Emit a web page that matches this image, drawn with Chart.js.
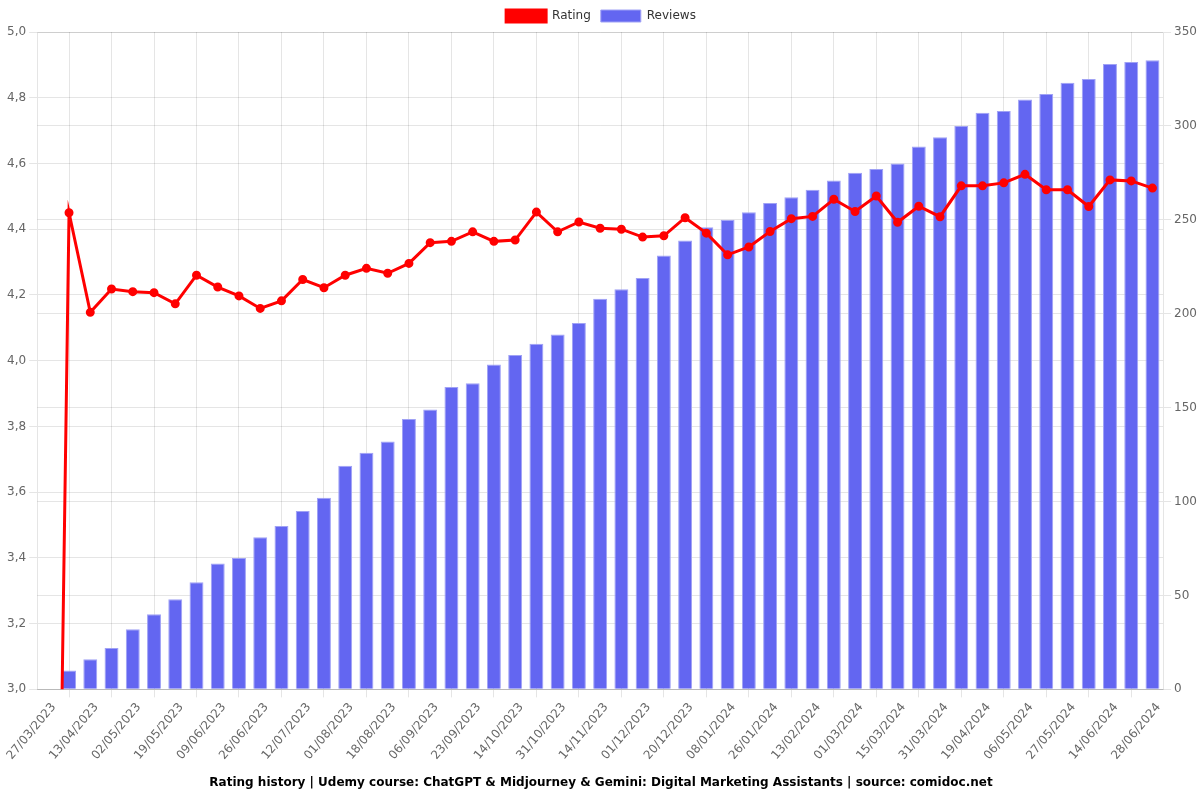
<!DOCTYPE html>
<html>
<head>
<meta charset="utf-8">
<script src="https://cdn.jsdelivr.net/npm/chart.js@4/dist/chart.umd.min.js"></script>
<style>
  html, body { margin: 0; padding: 0; background: #fff; }
  #wrap { width: 1200px; height: 800px; position: relative; }
</style>
</head>
<body>
<div id="wrap"><canvas id="chart"></canvas></div>
<script>
// dates (only every other one is visible on the axis)
const dates = [
  "27/03/2023", "05/04/2023", "13/04/2023", "22/04/2023", "02/05/2023", "10/05/2023",
  "19/05/2023", "29/05/2023", "09/06/2023", "17/06/2023", "26/06/2023", "04/07/2023",
  "12/07/2023", "22/07/2023", "01/08/2023", "09/08/2023", "18/08/2023", "27/08/2023",
  "06/09/2023", "14/09/2023", "23/09/2023", "04/10/2023", "14/10/2023", "22/10/2023",
  "31/10/2023", "07/11/2023", "14/11/2023", "22/11/2023", "01/12/2023", "10/12/2023",
  "20/12/2023", "29/12/2023", "08/01/2024", "17/01/2024", "26/01/2024", "04/02/2024",
  "13/02/2024", "21/02/2024", "01/03/2024", "08/03/2024", "15/03/2024", "23/03/2024",
  "31/03/2024", "09/04/2024", "19/04/2024", "27/04/2024", "06/05/2024", "16/05/2024",
  "27/05/2024", "05/06/2024", "14/06/2024", "21/06/2024", "28/06/2024"
];

const rating = [
  0, 4.45, 4.147, 4.218, 4.21, 4.207, 4.173, 4.26, 4.224, 4.197,
  4.159, 4.182, 4.247, 4.222, 4.26, 4.281, 4.266, 4.296, 4.359, 4.363,
  4.392, 4.363, 4.367, 4.452, 4.392, 4.422, 4.403, 4.4, 4.376, 4.38,
  4.435, 4.388, 4.322, 4.346, 4.393, 4.432, 4.439, 4.491, 4.454, 4.501,
  4.421, 4.47, 4.438, 4.532, 4.532, 4.541, 4.567, 4.52, 4.52, 4.469,
  4.55, 4.547, 4.525
];

const reviews = [
  0, 10, 16, 22, 32, 40, 48, 57, 67, 70,
  81, 87, 95, 102, 119, 126, 132, 144, 149, 161,
  163, 173, 178, 184, 189, 195, 208, 213, 219, 231,
  239, 246, 250, 254, 259, 262, 266, 271, 275, 277,
  280, 289, 294, 300, 307, 308, 314, 317, 323, 325,
  333, 334, 335
];

const titleText = "Rating history | Udemy course: ChatGPT & Midjourney & Gemini: Digital Marketing Assistants | source: comidoc.net";

Chart.defaults.font.family = "'DejaVu Sans', sans-serif";
Chart.defaults.font.size = 12;
Chart.defaults.color = "#666";

const ctx = document.getElementById("chart").getContext("2d");

new Chart(ctx, {
  type: "bar",
  data: {
    labels: dates,
    datasets: [
      {
        type: "line",
        label: "Rating",
        data: rating,
        yAxisID: "y",
        borderColor: "rgb(255, 0, 0)",
        backgroundColor: "rgb(255, 0, 0)",
        borderWidth: 3,
        pointRadius: 3,
        pointBackgroundColor: "rgb(255, 0, 0)",
        pointBorderColor: "rgb(255, 0, 0)",
        tension: 0,
      },
      {
        type: "bar",
        label: "Reviews",
        data: reviews,
        yAxisID: "y1",
        backgroundColor: "rgb(99, 102, 241)",
        borderColor: "rgba(160, 162, 245, 1)",
        borderWidth: 1,
        barPercentage: 0.82,
      },
    ],
  },
  options: {
    responsive: true,
    maintainAspectRatio: false,
    animation: false,
    locale: "de-DE",
    layout: { padding: { left: 2 } },
    plugins: {
      legend: {
        position: "top",
        labels: { color: "#333" },
      },
      title: {
        display: true,
        position: "bottom",
        text: titleText,
        color: "#000",
        font: { weight: "bold", size: 12 },
      },
      tooltip: { enabled: false },
    },
    scales: {
      x: {
        ticks: { color: "#666", labelOffset: 6 },
      },
      y: {
        position: "left",
        min: 3,
        max: 5,
      },
      y1: {
        position: "right",
        beginAtZero: true,
      },
    },
  },
});
</script>
</body>
</html>
